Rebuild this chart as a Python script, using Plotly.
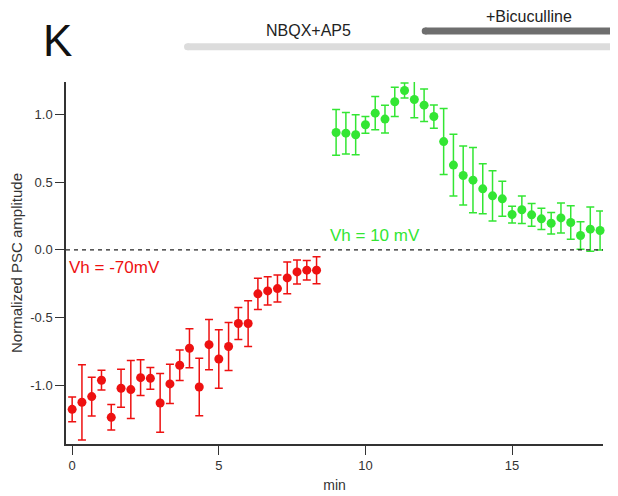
import plotly.graph_objects as go

# ---- data ----
red_x = [i / 3 for i in range(26)]
red_y = [-1.178, -1.126, -1.084, -0.963, -1.237, -1.022, -1.032, -0.944, -0.949, -1.131,
         -0.990, -0.852, -0.727, -1.013, -0.700, -0.806, -0.714, -0.544, -0.544, -0.325,
         -0.303, -0.286, -0.207, -0.163, -0.150, -0.150]
red_err = [0.091, 0.278, 0.143, 0.073, 0.094, 0.140, 0.214, 0.132, 0.081, 0.217,
           0.145, 0.113, 0.144, 0.212, 0.186, 0.216, 0.177, 0.118, 0.169, 0.115,
           0.105, 0.100, 0.118, 0.089, 0.072, 0.100]

green_x = [9 + i / 3 for i in range(28)]
green_y = [0.867, 0.862, 0.850, 0.924, 1.010, 0.966, 1.094, 1.177, 1.111, 1.069,
           0.985, 0.800, 0.626, 0.549, 0.515, 0.451, 0.399, 0.377, 0.261, 0.296,
           0.259, 0.229, 0.197, 0.236, 0.202, 0.106, 0.153, 0.143]
green_err = [0.169, 0.153, 0.148, 0.062, 0.123, 0.102, 0.108, 0.055, 0.135, 0.120,
             0.086, 0.244, 0.228, 0.218, 0.241, 0.185, 0.185, 0.129, 0.062, 0.101,
             0.084, 0.079, 0.079, 0.111, 0.123, 0.101, 0.163, 0.144]

x_ticks = [0, 5, 10, 15]
y_ticks = [-1.0, -0.5, 0.0, 0.5, 1.0]

RED = "#ee1111"
GREEN = "#33e633"
FONT = "Liberation Sans, Arial, sans-serif"

fig = go.Figure()

fig.add_trace(go.Scatter(
    x=red_x, y=red_y, mode="markers",
    marker=dict(color=RED, size=9),
    error_y=dict(type="data", array=red_err, color=RED, thickness=1.5, width=4),
    showlegend=False, cliponaxis=False,
))
fig.add_trace(go.Scatter(
    x=green_x, y=green_y, mode="markers",
    marker=dict(color=GREEN, size=9),
    error_y=dict(type="data", array=green_err, color=GREEN, thickness=1.5, width=4),
    showlegend=False, cliponaxis=False,
))

# zero line
fig.add_shape(type="line", xref="paper", yref="y", x0=0, x1=1, y0=0, y1=0,
              line=dict(color="#222222", width=1.2, dash="4px,4px"))

# treatment bars (paper coords)
bars = [
    (0.2263, 1.0177, 1.0975, "#dcdcdc"),
    (0.6689, 1.0177, 1.1409, "#6e6e6e"),
]
for x0, x1, y, col in bars:
    fig.add_shape(type="line", xref="paper", yref="paper", x0=x0, x1=x1, y0=y, y1=y,
                  line=dict(color=col, width=7))
    for xc in (x0, x1):
        fig.add_shape(type="circle", xref="paper", yref="paper",
                      xsizemode="pixel", ysizemode="pixel",
                      xanchor=xc, yanchor=y, x0=-3.5, x1=3.5, y0=-3.5, y1=3.5,
                      line=dict(width=0), fillcolor=col)

def note(text, x, y, size, color, xref="paper", yref="paper", xanchor="center"):
    fig.add_annotation(text=text, xref=xref, yref=yref, x=x, y=y,
                       xanchor=xanchor, yanchor="middle", showarrow=False,
                       font=dict(family=FONT, size=size, color=color))

note("NBQX+AP5", 0.4525, 1.1436, 16, "#222222")
note("+Bicuculline", 0.862, 1.180, 16, "#222222")
note("K", -0.015, 1.116, 44, "#111111")
note("Vh = -70mV", -0.19, -0.133, 17, RED, "x", "y", "left")
note("Vh = 10 mV", 8.72, 0.103, 17, GREEN, "x", "y", "left")

fig.update_layout(
    width=610, height=488,
    margin=dict(l=58, r=15, t=74, b=52),
    plot_bgcolor="white", paper_bgcolor="white",
    font=dict(family=FONT, size=13, color="#333333"),
    xaxis=dict(range=[-0.21, 18.1], tickvals=x_ticks, ticks="outside", ticklen=9,
               tickcolor="#333333", showline=True, linecolor="#333333", linewidth=1.5,
               showgrid=False, zeroline=False, automargin=False,
               title=dict(text="min", font=dict(size=14), standoff=8),
               tickfont=dict(size=13)),
    yaxis=dict(range=[-1.434, 1.24], tickvals=y_ticks,
               ticktext=["-1.0", "-0.5", "0.0", "0.5", "1.0"],
               ticks="outside", ticklen=9,
               tickcolor="#333333", showline=True, linecolor="#333333", linewidth=1.5,
               showgrid=False, zeroline=False, automargin=False,
               title=dict(text="Normalized PSC amplitude", font=dict(size=15), standoff=6),
               tickfont=dict(size=13)),
)

fig.write_html("out.html")
